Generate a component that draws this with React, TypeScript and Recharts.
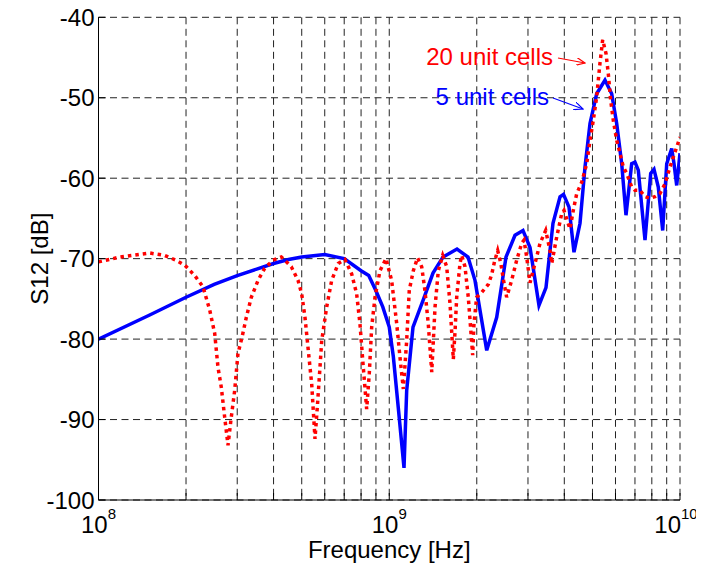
import React from 'react';
import { LineChart, Line, XAxis, YAxis, CartesianGrid, Label } from 'recharts';

// frequency axis ticks (log decades + minor grid)
const freqTicks = [
  1e8, 2e8, 3e8, 4e8, 5e8, 6e8, 7e8, 8e8, 9e8,
  1e9, 2e9, 3e9, 4e9, 5e9, 6e9, 7e9, 8e9, 9e9, 1e10,
];
const dbTicks = [-100, -90, -80, -70, -60, -50, -40];

// [frequency Hz, S12 dB] - 5 unit cells (solid blue)
const fiveCells: [number, number][] = [
  [1e8, -80], [1.5e8, -77], [2e8, -74.8], [2.5e8, -73.2], [3e8, -72.1], [3.5e8, -71.3],
  [4e8, -70.6], [4.5e8, -70.1], [5e8, -69.8], [6e8, -69.5], [7e8, -70.0], [8e8, -71.5],
  [8.5e8, -72.1], [9e8, -74], [9.5e8, -76], [1e9, -78.5], [1.033e9, -82.2], [1.074e9, -88.5],
  [1.124e9, -96], [1.148e9, -86.4], [1.207e9, -78.5], [1.307e9, -75.2], [1.414e9, -71.8],
  [1.531e9, -69.8], [1.71e9, -68.8], [1.866e9, -69.8], [1.972e9, -72.7], [2.164e9, -81.4],
  [2.342e9, -77.3], [2.521e9, -69.8], [2.707e9, -67.1], [2.884e9, -66.5], [3.049e9, -68.6],
  [3.273e9, -75.8], [3.46e9, -73.6], [3.657e9, -65.6], [3.867e9, -62.3], [3.975e9, -62.0],
  [4.152e9, -63.6], [4.319e9, -69.2], [4.53e9, -65.6], [4.713e9, -58.6], [4.903e9, -53.2],
  [5.169e9, -49.5], [5.521e9, -47.8], [5.822e9, -49.5], [6.057e9, -53.2], [6.302e9, -58.2],
  [6.52e9, -64.6], [6.821e9, -58.2], [7.0e9, -58.0], [7.187e9, -59], [7.579e9, -67.7],
  [7.929e9, -59.4], [8.139e9, -58.9], [8.42e9, -61.1], [8.72e9, -66.5], [9.001e9, -58.2],
  [9.365e9, -56.3], [9.537e9, -58.2], [9.743e9, -60.9], [1e10, -56.9],
];

// [frequency Hz, S12 dB] - 20 unit cells (dotted red)
const twentyCells: [number, number][] = [
  [1e8, -70.4], [1.186e8, -69.8], [1.5e8, -69.3], [1.689e8, -69.6], [1.848e8, -70.2],
  [1.979e8, -70.8], [2.143e8, -72.1], [2.288e8, -73.5], [2.413e8, -76.4], [2.51e8, -79.3],
  [2.576e8, -83.5], [2.645e8, -86], [2.716e8, -89.7], [2.789e8, -93.2], [2.862e8, -89.7],
  [2.94e8, -86.4], [3.018e8, -81.8], [3.115e8, -79.8], [3.224e8, -77.3], [3.354e8, -74.8],
  [3.537e8, -72.7], [3.729e8, -71.2], [3.983e8, -70.2], [4.254e8, -69.8], [4.604e8, -71.0],
  [4.856e8, -72.7], [5.0e8, -74.4], [5.131e8, -77.3], [5.267e8, -81.4], [5.411e8, -85.6],
  [5.554e8, -92.4], [5.656e8, -88.5], [5.778e8, -83.5], [5.857e8, -80.2], [6.093e8, -76.0],
  [6.339e8, -72.7], [6.679e8, -70.6], [7.042e8, -70.1], [7.426e8, -71.9], [7.726e8, -74.4],
  [7.93e8, -78.1], [8.141e8, -83.5], [8.362e8, -88.7], [8.537e8, -84.3], [8.701e8, -78.5],
  [8.933e8, -74.8], [9.293e8, -71.5], [9.746e8, -70.0], [1.019e9, -72.7], [1.061e9, -78.1],
  [1.089e9, -82.3], [1.118e9, -86.2], [1.148e9, -80.2], [1.172e9, -73.9], [1.21e9, -71.5],
  [1.251e9, -69.9], [1.293e9, -71.0], [1.327e9, -74.0], [1.362e9, -78.1], [1.4e9, -84.1],
  [1.418e9, -80.2], [1.437e9, -76.0], [1.475e9, -71.5], [1.527e9, -69.6], [1.576e9, -71],
  [1.618e9, -75.6], [1.661e9, -82.5], [1.684e9, -79], [1.706e9, -74.8], [1.751e9, -70.6],
  [1.775e9, -69.6], [1.822e9, -71.0], [1.87e9, -74.8], [1.936e9, -82.0], [1.956e9, -78.1],
  [1.998e9, -74.8], [2.08e9, -74.2], [2.191e9, -73.2], [2.25e9, -72.0], [2.3e9, -70.4],
  [2.36e9, -69.0], [2.42e9, -70.6], [2.467e9, -72.5], [2.534e9, -74.8], [2.636e9, -72.7],
  [2.743e9, -70.2], [2.854e9, -68.1], [2.907e9, -67.7], [2.97e9, -69.8], [3.049e9, -73.0],
  [3.172e9, -70.6], [3.3e9, -68.1], [3.452e9, -66.5], [3.573e9, -69.0], [3.621e9, -70.6],
  [3.767e9, -67.3], [3.919e9, -64.4], [3.991e9, -64.0], [4.086e9, -65.2], [4.185e9, -66.3],
  [4.295e9, -64.0], [4.414e9, -61.9], [4.592e9, -60.5], [4.777e9, -58.2], [4.903e9, -55.3],
  [5.033e9, -52.8], [5.169e9, -49.9], [5.306e9, -45.7], [5.421e9, -42.8], [5.566e9, -44.5],
  [5.667e9, -47.0], [5.774e9, -50.3], [5.896e9, -52.8], [6.057e9, -55.3], [6.216e9, -56.9],
  [6.383e9, -58.6], [6.556e9, -59.4], [6.821e9, -61.1], [7.0e9, -61.5], [7.283e9, -61.5],
  [7.579e9, -62.3], [7.885e9, -62.5], [8.204e9, -62.3], [8.535e9, -61.9], [8.88e9, -60.7],
  [9.239e9, -58.6], [9.484e9, -57.4], [1e10, -54.9],
];

const FONT = "Arial, 'Liberation Sans', Helvetica, sans-serif";

const toRows = (pts: [number, number][]) => pts.map(([f, db]) => ({ f, db }));

// only decades get a label, written as 10^n
const FreqTick = (props: any) => {
  const { x, y, payload } = props;
  const lg = Math.log10(payload.value);
  const exp = Math.round(lg);
  if (Math.abs(lg - exp) > 1e-6) return <g />;
  // two-digit exponent would run off the right edge
  const shift = exp >= 10 ? -4 : 0;
  return (
    <text x={x + shift} y={y + 31} textAnchor="middle" fontSize={24} fontFamily={FONT} fill="#000">
      <tspan>10</tspan>
      <tspan dy={-14} fontSize={15}>{exp}</tspan>
    </text>
  );
};

const YTitle = (props: any) => {
  const { viewBox } = props;
  const cx = viewBox.x + 10;
  const cy = viewBox.y + viewBox.height / 2;
  return (
    <text x={cx} y={cy} transform={`rotate(-90, ${cx}, ${cy})`} textAnchor="middle"
      fontSize={24} fontFamily={FONT} fill="#000">
      S12 [dB]
    </text>
  );
};

export default function App() {
  const W = 696;
  const H = 557;
  return (
    <div style={{ position: 'relative', width: W, height: H }}>
      <style>{'svg.recharts-surface { overflow: visible; }'}</style>
      <LineChart width={W} height={H} margin={{ top: 9.3, right: 24, bottom: 0, left: 30.5 }}>
        <CartesianGrid stroke="#222" strokeDasharray="7 4.5" strokeWidth={1} />
        <XAxis
          dataKey="f" type="number" scale="log" domain={[1e8, 1e10]} ticks={freqTicks}
          allowDataOverflow interval={0} height={65} tickSize={-7} tickMargin={9}
          stroke="#000" tick={<FreqTick />}
        >
          <Label value="Frequency [Hz]" position="insideBottom" offset={7}
            style={{ fontSize: 24, fontFamily: FONT, fill: '#000' }} />
        </XAxis>
        <XAxis
          xAxisId="top" orientation="top" dataKey="f" type="number" scale="log"
          domain={[1e8, 1e10]} ticks={freqTicks} allowDataOverflow interval={0}
          height={0} tickSize={-7} tick={false} stroke="#000"
        />
        <YAxis
          type="number" domain={[-100, -40]} ticks={dbTicks} width={60} interval={0}
          tickSize={-7} tickMargin={11} stroke="#000" allowDataOverflow
          tick={{ fontSize: 24, fontFamily: FONT, fill: '#000' }}
        >
          <Label content={<YTitle />} />
        </YAxis>
        <YAxis
          yAxisId="right" orientation="right" type="number" domain={[-100, -40]}
          ticks={dbTicks} width={0} tickSize={-7} tick={false} stroke="#000" allowDataOverflow
        />
        <Line
          data={toRows(fiveCells)} dataKey="db" type="linear" stroke="#0000ff"
          strokeWidth={3.5} dot={false} isAnimationActive={false}
        />
        <Line
          data={toRows(twentyCells)} dataKey="db" type="linear" stroke="#ff0000"
          strokeWidth={3.5} strokeDasharray="3.5 4" dot={false} isAnimationActive={false}
        />
      </LineChart>

      {/* annotations with arrows */}
      <svg width={W} height={H} style={{ position: 'absolute', left: 0, top: 0, pointerEvents: 'none' }}>
        <defs>
          <marker id="arR" markerWidth="10" markerHeight="8" refX="9" refY="4" orient="auto" markerUnits="userSpaceOnUse">
            <path d="M0,0 L9,4 L0,8" fill="none" stroke="#ff0000" strokeWidth={1.2} />
          </marker>
          <marker id="arB" markerWidth="10" markerHeight="8" refX="9" refY="4" orient="auto" markerUnits="userSpaceOnUse">
            <path d="M0,0 L9,4 L0,8" fill="none" stroke="#0000ff" strokeWidth={1.2} />
          </marker>
        </defs>
        <text x={545} y={57} textAnchor="end" fontSize={24} fontFamily={FONT} fill="#ff0000">20 unit cells</text>
        <line x1={550} y1={50} x2={577} y2={55} stroke="#ff0000" strokeWidth={1.2} markerEnd="url(#arR)" />
        <text x={541} y={97} textAnchor="end" fontSize={24} fontFamily={FONT} fill="#0000ff">5 unit cells</text>
        <line x1={545} y1={90} x2={575} y2={101} stroke="#0000ff" strokeWidth={1.2} markerEnd="url(#arB)" />
      </svg>
    </div>
  );
}
